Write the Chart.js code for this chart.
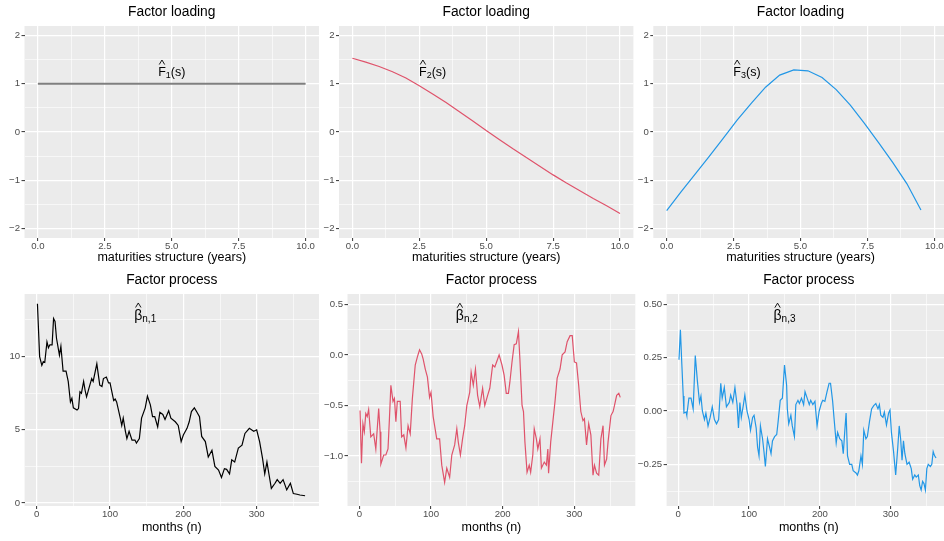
<!DOCTYPE html>
<html>
<head>
<meta charset="utf-8">
<script src="https://cdn.jsdelivr.net/npm/chart.js@4.4.1/dist/chart.umd.min.js"></script>
<style>
  html, body { margin: 0; padding: 0; background: #fff; overflow: hidden; width: 944px; height: 541px; position: relative; }
  canvas { position: absolute; }
</style>
</head>
<body>
<script>
// ---- data ----
// factor loadings over the maturity structure (years)
const maturity1 = [0, 10];
const loading1 = [1, 1];
const maturity2 = [0, 0.5, 1, 1.5, 2, 2.5, 3, 3.5, 4, 4.5, 5, 5.5, 6, 6.5, 7, 7.5, 8, 8.5, 9, 9.5, 10];
const loading2 = [1.53, 1.45, 1.36, 1.25, 1.12, 0.96, 0.79, 0.61, 0.42, 0.23, 0.03, -0.16, -0.35, -0.53, -0.71, -0.89, -1.06, -1.22, -1.38, -1.53, -1.69];
const maturity3 = [0, 0.528, 1.056, 1.583, 2.111, 2.639, 3.167, 3.694, 4.222, 4.75, 5.278, 5.806, 6.333, 6.861, 7.389, 7.917, 8.444, 8.972, 9.5];
const loading3 = [-1.63, -1.25, -0.88, -0.51, -0.13, 0.25, 0.60, 0.93, 1.18, 1.29, 1.27, 1.13, 0.88, 0.56, 0.18, -0.22, -0.63, -1.07, -1.62];

// factor processes over months
const months1 = [1, 4, 7, 9, 11, 14, 16, 18, 21, 23, 25, 27, 31, 33, 36, 40, 43, 46, 48, 50, 55, 57, 59, 61, 64, 66, 68, 71, 75, 77, 82, 86, 89, 91, 95, 98, 100, 105, 107, 109, 114, 116, 118, 121, 123, 126, 130, 134, 136, 140, 143, 148, 151, 155, 158, 161, 165, 168, 172, 175, 180, 183, 189, 193, 197, 200, 205, 208, 211, 215, 218, 222, 225, 230, 234, 239, 243, 248, 252, 256, 259, 263, 266, 270, 275, 280, 284, 290, 296, 300, 304, 308, 311, 314, 317, 320, 325, 328, 332, 336, 341, 346, 350, 355, 359, 366];
const beta1 = [13.6, 10.0, 9.4, 9.65, 9.6, 11.0, 10.6, 10.8, 10.8, 12.6, 12.4, 11.25, 10.1, 10.7, 9.0, 9.0, 8.3, 6.9, 7.15, 6.5, 6.35, 6.45, 7.6, 7.5, 8.3, 7.7, 7.25, 7.8, 8.5, 8.3, 9.5, 8.05, 7.95, 8.5, 8.6, 8.2, 8.2, 7.0, 7.1, 6.9, 5.8, 5.3, 5.8, 4.9, 4.4, 4.9, 4.3, 4.3, 4.1, 4.4, 5.8, 6.5, 7.3, 6.7, 5.9, 5.9, 5.2, 6.2, 6.05, 5.7, 6.3, 5.8, 5.55, 5.3, 4.2, 4.65, 5.1, 5.55, 6.25, 6.5, 6.25, 5.9, 4.55, 4.2, 3.15, 3.6, 2.5, 2.25, 1.75, 2.35, 2.3, 2.0, 2.95, 2.8, 3.75, 3.95, 4.75, 5.1, 4.9, 5.0, 4.2, 3.05, 2.0, 2.8, 1.9, 1.0, 1.35, 1.6, 1.35, 1.6, 0.9, 1.35, 0.65, 0.6, 0.55, 0.5];

const months2 = [1, 3, 5, 7, 9, 11, 13, 16, 20, 23, 27, 29, 30, 34, 37, 40, 42, 44, 47, 49, 51, 53, 57, 59, 62, 65, 68, 71, 74, 78, 81, 84, 87, 89, 92, 95, 98, 100, 103, 108, 112, 115, 119, 122, 126, 129, 133, 136, 138, 141, 144, 147, 150, 154, 156, 159, 162, 165, 168, 172, 175, 179, 182, 186, 189, 193, 195, 199, 202, 205, 208, 210, 213, 216, 219, 222, 224, 227, 229, 231, 234, 237, 239, 242, 244, 247, 249, 252, 254, 258, 261, 263, 264, 267, 270, 273, 276, 280, 283, 287, 290, 294, 297, 300, 303, 306, 309, 312, 314, 317, 320, 323, 326, 328, 331, 334, 337, 340, 342, 345, 347, 351, 354, 356, 359, 362, 364];
const beta2 = [-0.55, -1.07, -0.68, -0.76, -0.58, -0.61, -0.54, -0.81, -0.78, -0.93, -0.53, -0.76, -1.08, -0.99, -0.99, -0.93, -0.63, -0.30, -0.46, -0.43, -0.66, -0.46, -0.46, -0.81, -0.79, -0.92, -0.70, -0.78, -0.43, -0.10, -0.02, 0.05, 0.01, -0.04, -0.14, -0.22, -0.42, -0.37, -0.61, -0.83, -0.83, -1.09, -1.26, -1.12, -1.21, -0.99, -0.89, -0.73, -0.86, -0.99, -0.83, -0.70, -0.50, -0.37, -0.17, -0.30, -0.14, -0.40, -0.51, -0.33, -0.50, -0.40, -0.33, -0.10, -0.12, -0.04, 0.0, -0.10, -0.20, -0.38, -0.38, -0.27, -0.07, 0.10, 0.11, 0.23, -0.04, -0.50, -0.56, -0.86, -1.16, -1.09, -1.16, -0.99, -0.73, -0.83, -0.93, -0.83, -1.12, -1.06, -1.09, -0.93, -1.17, -0.86, -0.66, -0.46, -0.23, -0.14, 0.0, 0.03, 0.13, 0.19, 0.19, -0.07, -0.08, -0.30, -0.56, -0.65, -0.63, -0.89, -0.68, -0.79, -1.19, -1.09, -1.17, -1.19, -0.83, -0.70, -1.09, -1.03, -0.86, -0.60, -0.56, -0.50, -0.40, -0.38, -0.42];

const months3 = [1, 3, 5, 7, 8, 11, 12, 15, 18, 21, 24, 27, 30, 32, 34, 37, 39, 42, 45, 48, 51, 54, 57, 60, 62, 65, 68, 72, 74, 77, 80, 83, 85, 87, 89, 92, 94, 97, 100, 102, 105, 107, 110, 112, 114, 116, 119, 121, 123, 126, 129, 131, 133, 136, 139, 141, 144, 147, 150, 153, 154, 156, 159, 161, 164, 166, 169, 171, 174, 177, 179, 182, 185, 187, 190, 193, 196, 199, 202, 204, 207, 210, 213, 215, 218, 220, 223, 225, 228, 231, 233, 235, 237, 239, 242, 245, 247, 251, 253, 255, 258, 260, 262, 265, 267, 270, 273, 276, 279, 282, 284, 286, 289, 291, 294, 297, 299, 301, 304, 307, 310, 312, 314, 316, 318, 320, 323, 326, 329, 331, 334, 336, 339, 341, 343, 345, 347, 349, 351, 353, 356, 358, 360, 362, 364];
const beta3 = [0.24, 0.38, 0.22, 0.07, -0.01, -0.005, -0.02, 0.06, 0.06, 0.01, 0.26, 0.14, 0.04, 0.07, 0.0, -0.04, -0.01, -0.07, -0.03, 0.02, -0.04, -0.06, -0.04, 0.13, 0.06, 0.11, 0.02, 0.04, 0.075, 0.04, 0.11, 0.03, -0.08, 0.04, -0.03, 0.03, 0.075, 0.0, -0.04, -0.09, -0.03, -0.02, -0.08, -0.17, -0.21, -0.07, -0.13, -0.19, -0.26, -0.13, -0.17, -0.20, -0.14, -0.12, -0.11, -0.05, 0.05, 0.06, 0.215, 0.12, 0.01, -0.06, -0.02, -0.07, -0.12, 0.03, 0.05, 0.035, 0.06, 0.03, 0.09, 0.06, 0.03, 0.05, 0.03, 0.045, -0.07, 0.0, 0.035, 0.05, 0.045, 0.09, 0.13, 0.13, 0.045, -0.035, -0.15, -0.10, -0.13, -0.14, -0.20, -0.10, -0.01, -0.21, -0.25, -0.25, -0.28, -0.29, -0.30, -0.28, -0.21, -0.25, -0.09, -0.13, -0.12, -0.05, 0.01, 0.025, 0.035, 0.01, 0.03, -0.02, -0.03, -0.005, -0.065, -0.01, 0.005, -0.10, -0.19, -0.30, -0.17, -0.07, -0.13, -0.23, -0.14, -0.20, -0.25, -0.24, -0.27, -0.32, -0.30, -0.31, -0.30, -0.35, -0.37, -0.33, -0.34, -0.37, -0.27, -0.25, -0.26, -0.25, -0.19, -0.21, -0.22];

// ---- tick values and labels ----
const maturityTicks = [0, 2.5, 5, 7.5, 10];
const maturityTickLabels = ['0.0', '2.5', '5.0', '7.5', '10.0'];
const maturityMinor = [1.25, 3.75, 6.25, 8.75];
const loadingTicks = [-2, -1, 0, 1, 2];
const loadingTickLabels = ['\u22122', '\u22121', '0', '1', '2'];
const loadingMinor = [-1.5, -0.5, 0.5, 1.5];
const monthTicks = [0, 100, 200, 300];
const monthTickLabels = ['0', '100', '200', '300'];
const monthMinor = [50, 150, 250, 350];
const beta1Ticks = [0, 5, 10];
const beta1TickLabels = ['0', '5', '10'];
const beta1Minor = [2.5, 7.5, 12.5];
const beta2Ticks = [-1, -0.5, 0, 0.5];
const beta2TickLabels = ['\u22121.0', '\u22120.5', '0.0', '0.5'];
const beta2Minor = [-1.25, -0.75, -0.25, 0.25];
const beta3Ticks = [-0.25, 0, 0.25, 0.5];
const beta3TickLabels = ['\u22120.25', '0.00', '0.25', '0.50'];
const beta3Minor = [-0.375, -0.125, 0.125, 0.375];

const FONT = '"Liberation Sans", Arial, Helvetica, sans-serif';

function toPoints(xs, ys) {
  return xs.map((x, i) => ({ x: x, y: ys[i] }));
}

function axis(min, max, majors, labels, minors, horizontal, size) {
  const all = majors.concat(minors).sort((a, b) => a - b);
  const isMajor = c => c.tick && majors.includes(c.tick.value);
  return {
    type: 'linear',
    min: min,
    max: max,
    afterBuildTicks: s => { s.ticks = all.map(v => ({ value: v })); },
    afterFit: s => { if (horizontal) s.height = size; else s.width = size; },
    border: { display: false },
    grid: {
      color: '#FFFFFF',
      lineWidth: c => isMajor(c) ? 1.2 : 0.6,
      drawTicks: true,
      tickLength: 3,
      tickWidth: 1,
      tickColor: c => isMajor(c) ? '#333333' : 'rgba(0,0,0,0)'
    },
    ticks: {
      autoSkip: false,
      maxRotation: 0,
      padding: horizontal ? 0 : 1.5,
      color: '#4D4D4D',
      font: { family: FONT, size: 9.6 },
      callback: v => { const i = majors.indexOf(v); return i < 0 ? '' : labels[i]; }
    }
  };
}

// draws background, title, axis title and the hat label
function decor(p) {
  return {
    id: 'decor',
    beforeDraw(chart) {
      const a = chart.chartArea, c = chart.ctx;
      c.save();
      c.fillStyle = '#EBEBEB';
      c.fillRect(a.left, a.top, a.right - a.left, a.bottom - a.top);
      c.restore();
    },
    afterDraw(chart) {
      const a = chart.chartArea, c = chart.ctx;
      const mid = (a.left + a.right) / 2;
      c.save();
      c.fillStyle = '#000';
      c.textAlign = 'center';
      c.textBaseline = 'alphabetic';
      c.font = '13.8px ' + FONT;
      c.fillText(p.title, mid, a.top - 10);
      c.font = '12.5px ' + FONT;
      c.fillText(p.xTitle, mid, a.bottom + p.xTitleGap);

      // hat label
      const cx = chart.scales.x.getPixelForValue(p.labelX);
      const cy = chart.scales.y.getPixelForValue(p.labelY);
      const mainFont = p.mainSize + 'px ' + FONT, subFont = p.subSize + 'px ' + FONT;
      c.textAlign = 'left';
      c.font = mainFont;
      const wb = c.measureText(p.base).width;
      const wt = p.tail ? c.measureText(p.tail).width : 0;
      c.font = subFont;
      const ws = c.measureText(p.sub).width;
      let x = cx - (wb + ws + wt) / 2;
      const baseY = cy + 4;
      c.font = mainFont;
      c.fillText(p.base, x, baseY);
      const hx = x + wb / 2, top = baseY - p.mainSize * 0.74;
      c.strokeStyle = '#000';
      c.lineWidth = 0.9;
      c.beginPath();
      c.moveTo(hx - 2.7, top - 2);
      c.lineTo(hx, top - 6.5);
      c.lineTo(hx + 2.7, top - 2);
      c.stroke();
      x += wb;
      c.font = subFont;
      c.fillText(p.sub, x, baseY + 2);
      x += ws;
      if (p.tail) {
        c.font = mainFont;
        c.fillText(p.tail, x, baseY);
      }
      c.restore();
    }
  };
}

const panels = [
  { L: 24.5, R: 319, T: 26, B: 238, xs: maturity1, ys: loading1, color: '#7F7F7F', lw: 2,
    xMin: -0.5, xMax: 10.5, yMin: -2.2, yMax: 2.2,
    xT: [maturityTicks, maturityTickLabels, maturityMinor], yT: [loadingTicks, loadingTickLabels, loadingMinor],
    title: 'Factor loading', xTitle: 'maturities structure (years)', xTitleGap: 22.5,
    base: 'F', sub: '1', tail: '(s)', mainSize: 12.5, subSize: 9, labelX: 5, labelY: 1.25 },
  { L: 339, R: 633.4, T: 26, B: 238, xs: maturity2, ys: loading2, color: '#DF536B', lw: 1.2,
    xMin: -0.5, xMax: 10.5, yMin: -2.2, yMax: 2.2,
    xT: [maturityTicks, maturityTickLabels, maturityMinor], yT: [loadingTicks, loadingTickLabels, loadingMinor],
    title: 'Factor loading', xTitle: 'maturities structure (years)', xTitleGap: 22.5,
    base: 'F', sub: '2', tail: '(s)', mainSize: 12.5, subSize: 9, labelX: 3, labelY: 1.25 },
  { L: 653.3, R: 947.7, T: 26, B: 238, xs: maturity3, ys: loading3, color: '#2297E6', lw: 1.2,
    xMin: -0.5, xMax: 10.5, yMin: -2.2, yMax: 2.2,
    xT: [maturityTicks, maturityTickLabels, maturityMinor], yT: [loadingTicks, loadingTickLabels, loadingMinor],
    title: 'Factor loading', xTitle: 'maturities structure (years)', xTitleGap: 22.5,
    base: 'F', sub: '3', tail: '(s)', mainSize: 12.5, subSize: 9, labelX: 3, labelY: 1.25 },
  { L: 24.6, R: 319, T: 294, B: 506, xs: months1, ys: beta1, color: '#000000', lw: 1.2,
    xMin: -16.5, xMax: 385, yMin: -0.2, yMax: 14.27,
    xT: [monthTicks, monthTickLabels, monthMinor], yT: [beta1Ticks, beta1TickLabels, beta1Minor],
    title: 'Factor process', xTitle: 'months (n)', xTitleGap: 24.5,
    base: '\u03B2', sub: 'n,1', tail: '', mainSize: 14, subSize: 10, labelX: 148, labelY: 12.78 },
  { L: 347.5, R: 635.3, T: 294, B: 506, xs: months2, ys: beta2, color: '#DF536B', lw: 1.2,
    xMin: -16.5, xMax: 385, yMin: -1.494, yMax: 0.602,
    xT: [monthTicks, monthTickLabels, monthMinor], yT: [beta2Ticks, beta2TickLabels, beta2Minor],
    title: 'Factor process', xTitle: 'months (n)', xTitleGap: 24.5,
    base: '\u03B2', sub: 'n,2', tail: '', mainSize: 14, subSize: 10, labelX: 150, labelY: 0.384 },
  { L: 666.6, R: 950.9, T: 294, B: 506, xs: months3, ys: beta3, color: '#2297E6', lw: 1.2,
    xMin: -16.5, xMax: 385, yMin: -0.445, yMax: 0.548,
    xT: [monthTicks, monthTickLabels, monthMinor], yT: [beta3Ticks, beta3TickLabels, beta3Minor],
    title: 'Factor process', xTitle: 'months (n)', xTitleGap: 24.5,
    base: '\u03B2', sub: 'n,3', tail: '', mainSize: 14, subSize: 10, labelX: 150, labelY: 0.445 }
];

panels.forEach(p => {
  const left = Math.floor(p.L) - 40;
  const top = p.T - 28;
  const width = Math.ceil(p.R) - left + 6;
  const height = (p.B - p.T) + 28 + 36;
  const canvas = document.createElement('canvas');
  canvas.width = width;
  canvas.height = height;
  canvas.style.left = left + 'px';
  canvas.style.top = top + 'px';
  document.body.appendChild(canvas);

  new Chart(canvas.getContext('2d'), {
    type: 'line',
    data: {
      datasets: [{
        data: toPoints(p.xs, p.ys),
        borderColor: p.color,
        borderWidth: p.lw,
        pointRadius: 0,
        tension: 0,
        fill: false
      }]
    },
    options: {
      responsive: false,
      animation: false,
      devicePixelRatio: 1,
      layout: { autoPadding: false, padding: { left: 0, top: 28, right: width - (p.R - left), bottom: 0 } },
      plugins: { legend: { display: false }, tooltip: { enabled: false } },
      scales: {
        x: axis(p.xMin, p.xMax, p.xT[0], p.xT[1], p.xT[2], true, 36),
        y: axis(p.yMin, p.yMax, p.yT[0], p.yT[1], p.yT[2], false, p.L - left)
      }
    },
    plugins: [decor(p)]
  });
});
</script>
</body>
</html>
